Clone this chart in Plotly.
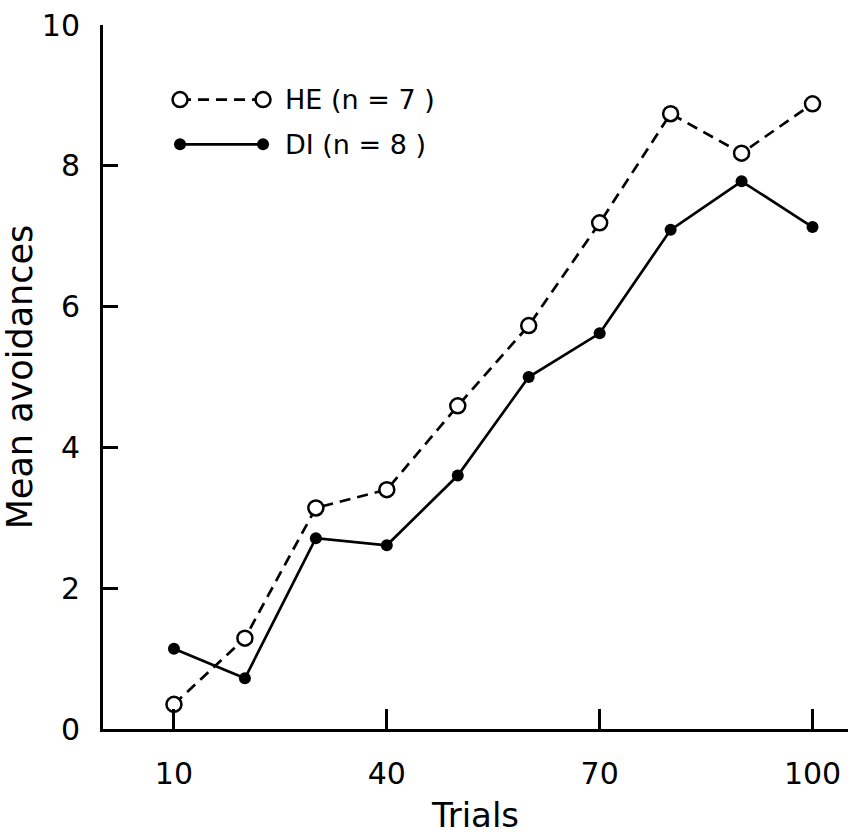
import plotly.graph_objects as go

trials = [10, 20, 30, 40, 50, 60, 70, 80, 90, 100]
he_values = [0.35, 1.29, 3.14, 3.40, 4.59, 5.73, 7.19, 8.74, 8.18, 8.88]
di_values = [1.14, 0.72, 2.71, 2.61, 3.60, 5.00, 5.62, 7.09, 7.78, 7.13]
x_ticks = [10, 40, 70, 100]
y_ticks = [0, 2, 4, 6, 8, 10]
he_label = "HE (n = 7 )"
di_label = "DI (n = 8 )"

FONT = "DejaVu Sans"

fig = go.Figure()

fig.add_trace(go.Scatter(
    x=trials, y=he_values, mode="lines+markers", name=he_label,
    line=dict(color="black", width=2.7, dash="11px,7px"),
    marker=dict(symbol="circle", size=15, color="white",
                line=dict(color="black", width=2.5)),
    showlegend=False,
))
fig.add_trace(go.Scatter(
    x=trials, y=di_values, mode="lines+markers", name=di_label,
    line=dict(color="black", width=2.7),
    marker=dict(symbol="circle", size=12, color="black"),
    showlegend=False,
))

# legend samples on a hidden overlay axis (fractions of plot area)
lx = [0.1034, 0.2148]
fig.add_trace(go.Scatter(
    x=lx, y=[0.894, 0.894], xaxis="x2", yaxis="y2", mode="lines+markers",
    line=dict(color="black", width=2.7, dash="11px,7px"),
    marker=dict(symbol="circle", size=15, color="white",
                line=dict(color="black", width=2.5)),
    showlegend=False, hoverinfo="skip",
))
fig.add_trace(go.Scatter(
    x=lx, y=[0.8305, 0.8305], xaxis="x2", yaxis="y2", mode="lines+markers",
    line=dict(color="black", width=2.7),
    marker=dict(symbol="circle", size=12, color="black"),
    showlegend=False, hoverinfo="skip",
))

fig.add_annotation(x=0.2416, y=0.894, xref="x2", yref="y2", text=he_label,
                   showarrow=False, xanchor="left", yanchor="middle",
                   font=dict(family=FONT, size=27, color="black"))
fig.add_annotation(x=0.2416, y=0.8305, xref="x2", yref="y2", text=di_label,
                   showarrow=False, xanchor="left", yanchor="middle",
                   font=dict(family=FONT, size=27, color="black"))

fig.update_layout(
    width=855, height=836,
    margin=dict(l=103, r=7, t=25, b=103),
    plot_bgcolor="white", paper_bgcolor="white",
    font=dict(family=FONT, color="black"),
    xaxis=dict(
        range=[0, 105], tickvals=x_ticks, ticks="inside", ticklen=20,
        tickwidth=2.5, tickcolor="black", showline=True, linecolor="black",
        linewidth=3, showgrid=False, zeroline=False,
        tickfont=dict(family=FONT, size=30), ticklabelstandoff=16,
        title=dict(text="Trials", font=dict(family=FONT, size=34), standoff=14),
    ),
    yaxis=dict(
        range=[0, 10], tickvals=y_ticks, ticks="inside", ticklen=15,
        tickwidth=2.5, tickcolor="black", showline=True, linecolor="black",
        linewidth=3, showgrid=False, zeroline=False,
        tickfont=dict(family=FONT, size=30), ticklabelstandoff=14,
        title=dict(text="Mean avoidances", font=dict(family=FONT, size=35), standoff=8),
    ),
    xaxis2=dict(range=[0, 1], overlaying="x", visible=False, fixedrange=True),
    yaxis2=dict(range=[0, 1], overlaying="y", visible=False, fixedrange=True),
)

fig.write_html("out.html")
